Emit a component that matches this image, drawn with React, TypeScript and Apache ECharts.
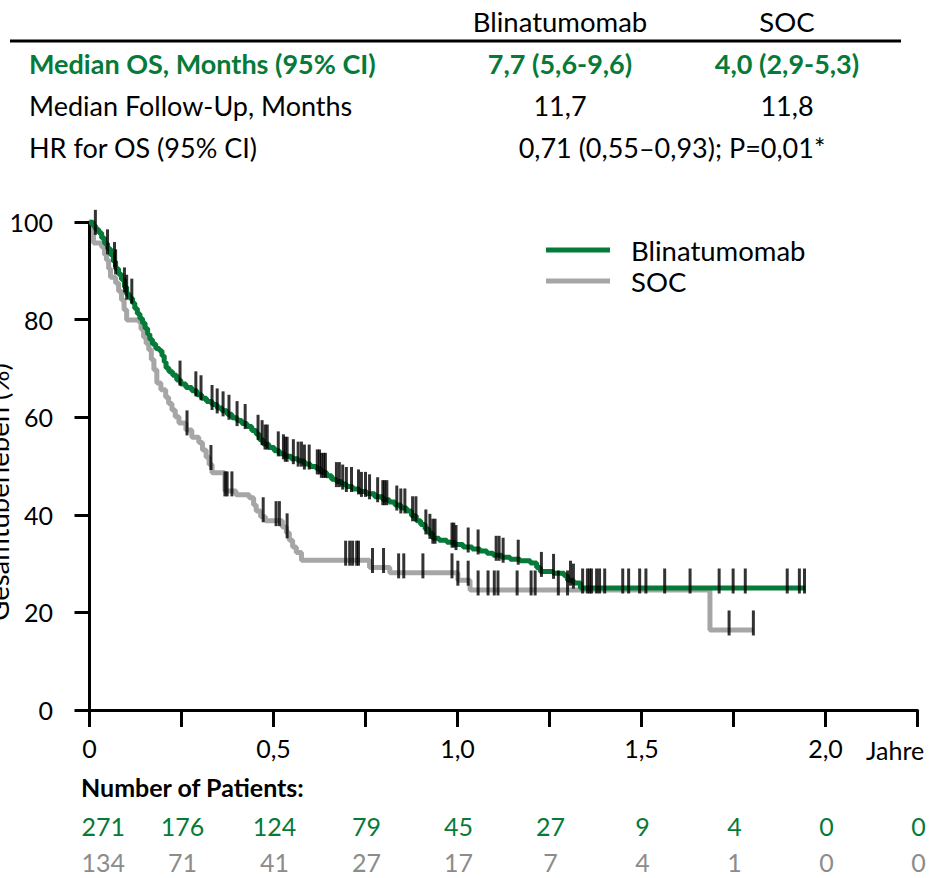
import React, { useEffect, useRef } from "react";
import * as echarts from "echarts";

const FONT = "Lato, 'Open Sans', sans-serif";
const GREEN = "#067a38";
const GREY = "#a6a6a6";
const GREY_TEXT = "#8c8c8c";

// Kaplan-Meier steps: time in years, overall survival in %
const blinaTime = [
  0, 0.008, 0.016, 0.025, 0.033, 0.041, 0.049, 0.057, 0.065, 0.071, 0.079, 0.087, 0.095, 0.101, 0.109,
  0.117, 0.123, 0.13, 0.137, 0.144, 0.151, 0.158, 0.164, 0.171, 0.18, 0.19, 0.197, 0.203, 0.208, 0.216,
  0.226, 0.237, 0.248, 0.262, 0.278, 0.292, 0.305, 0.318, 0.333, 0.347, 0.36, 0.374, 0.387, 0.401, 0.414,
  0.428, 0.441, 0.453, 0.462, 0.472, 0.487, 0.502, 0.516, 0.531, 0.548, 0.567, 0.584, 0.6, 0.617, 0.63,
  0.644, 0.658, 0.671, 0.685, 0.698, 0.715, 0.733, 0.753, 0.775, 0.797, 0.815, 0.83, 0.846, 0.862, 0.875,
  0.888, 0.9, 0.912, 0.922, 0.933, 0.95, 0.971, 0.993, 1.015, 1.04, 1.061, 1.08, 1.097, 1.12, 1.143,
  1.17, 1.198, 1.215, 1.225, 1.26, 1.29, 1.299, 1.315, 1.334, 1.945,
];
const blinaSurv = [
  100, 99.3, 98.5, 97.8, 96.7, 95.6, 94.5, 93.3, 91.9, 90.4, 89.3, 88.2, 86.7, 85.2, 84.4,
  83.4, 82.3, 81.2, 80.2, 79.3, 78.2, 77.0, 75.9, 75.0, 74.1, 73.6, 72.6, 71.3, 70.1, 69.3,
  68.6, 67.6, 66.8, 66.1, 65.4, 64.6, 63.9, 63.2, 62.6, 61.9, 61.3, 60.6, 59.9, 59.3, 58.7,
  58.1, 57.3, 56.5, 55.4, 54.5, 53.8, 53.1, 52.5, 52.0, 51.5, 51.0, 50.4, 49.9, 49.4, 48.7,
  48.0, 47.3, 46.8, 46.3, 45.8, 45.3, 44.8, 44.3, 43.7, 43.1, 42.6, 42.0, 41.4, 40.8, 39.8,
  38.8, 38.0, 37.1, 36.2, 35.2, 34.8, 34.4, 33.9, 33.4, 33.0, 32.6, 32.1, 31.7, 31.3, 30.9,
  30.6, 30.1, 29.2, 28.4, 28.0, 27.5, 26.6, 26.0, 25.0, 25.0,
];
const socTime = [
  0, 0.011, 0.033, 0.041, 0.046, 0.052, 0.057, 0.071, 0.079, 0.087, 0.094, 0.101, 0.134, 0.14, 0.147,
  0.154, 0.161, 0.168, 0.175, 0.183, 0.194, 0.207, 0.215, 0.224, 0.233, 0.243, 0.262, 0.278, 0.297,
  0.307, 0.317, 0.325, 0.333, 0.368, 0.398, 0.434, 0.446, 0.453, 0.465, 0.478, 0.524, 0.535, 0.543,
  0.552, 0.562, 0.576, 0.761, 0.816, 1.001, 1.034, 1.686, 1.804,
];
const socSurv = [
  100, 95.7, 94.9, 93.3, 92.2, 90.4, 88.7, 87.5, 85.8, 84.0, 82.0, 79.9, 79.5, 78.0, 76.4,
  75.1, 73.8, 71.8, 69.7, 67.0, 65.6, 64.1, 62.8, 61.5, 60.1, 58.8, 57.4, 55.9, 54.8,
  53.3, 51.8, 50.3, 48.6, 44.9, 44.1, 43.5, 42.0, 40.8, 39.6, 38.8, 37.5, 36.3, 34.8,
  33.4, 32.3, 30.7, 29.2, 28.1, 26.6, 24.6, 16.4, 16.4,
];

// Censoring times (years)
const blinaCensor = [
  0.016, 0.049, 0.068, 0.071, 0.095, 0.101, 0.115, 0.246, 0.289, 0.303, 0.333, 0.347, 0.363, 0.379,
  0.401, 0.423, 0.458, 0.469, 0.477, 0.483, 0.513, 0.527, 0.532, 0.537, 0.554, 0.567, 0.576, 0.584,
  0.597, 0.619, 0.625, 0.63, 0.636, 0.641, 0.671, 0.679, 0.688, 0.698, 0.712, 0.731, 0.739, 0.75,
  0.761, 0.783, 0.797, 0.802, 0.808, 0.835, 0.846, 0.857, 0.878, 0.887, 0.914, 0.925, 0.933, 0.939,
  0.985, 0.99, 0.996, 1.029, 1.056, 1.105, 1.113, 1.124, 1.165, 1.228, 1.261, 1.307, 1.315, 1.34,
  1.353, 1.359, 1.364, 1.378, 1.386, 1.4, 1.449, 1.465, 1.495, 1.512, 1.563, 1.632, 1.711, 1.749,
  1.782, 1.896, 1.929, 1.943,
];
const socCensor = [
  0.265, 0.33, 0.368, 0.374, 0.387, 0.472, 0.507, 0.516, 0.537, 0.696, 0.707, 0.715, 0.726, 0.731,
  0.769, 0.799, 0.84, 0.854, 0.906, 0.985, 1.001, 1.029, 1.056, 1.083, 1.1, 1.11, 1.162, 1.2, 1.211,
  1.274, 1.299, 1.738, 1.804,
];

// Number at risk
const riskTimes = [0, 0.25, 0.5, 0.75, 1, 1.25, 1.5, 1.75, 2, 2.25];
const blinaAtRisk = [271, 176, 124, 79, 45, 27, 9, 4, 0, 0];
const socAtRisk = [134, 71, 41, 27, 17, 7, 4, 1, 0, 0];

const xTickValues = [0, 0.25, 0.5, 0.75, 1, 1.25, 1.5, 1.75, 2, 2.25];
const xLabelValues = [0, 0.5, 1, 1.5, 2];

// Summary table
const armNames = ["Blinatumomab", "SOC"];
const rowLabels = ["Median OS, Months (95% CI)", "Median Follow-Up, Months", "HR for OS (95% CI)"];
const blinaCol = ["7,7 (5,6-9,6)", "11,7"];
const socCol = ["4,0 (2,9-5,3)", "11,8"];
const hrText = "0,71 (0,55–0,93); P=0,01*";
const yTitle = "Gesamtüberleben (%)";

function survivalAt(times: number[], surv: number[], t: number) {
  let s = surv[0];
  for (let i = 0; i < times.length; i++) {
    if (times[i] <= t) s = surv[i];
  }
  return s;
}

function fmtYear(v: number) {
  return v === 0 ? "0" : v.toFixed(1).replace(".", ",");
}

function txt(x: number, y: number, text: string, opts: any = {}) {
  return {
    type: "text",
    x,
    y,
    rotation: opts.rotation || 0,
    silent: true,
    style: {
      text,
      fill: opts.fill || "#000",
      fontSize: opts.fontSize || 27,
      fontFamily: FONT,
      fontWeight: opts.fontWeight || "normal",
      align: opts.align || "left",
      verticalAlign: "middle",
    },
  };
}

export default function App() {
  const ref = useRef<HTMLDivElement>(null);

  useEffect(() => {
    if (!ref.current) return;
    const chart = echarts.init(ref.current, undefined, { renderer: "svg" });

    const censorSeries = (name: string, times: number[], stepT: number[], stepS: number[]) => ({
      name,
      type: "scatter",
      data: times.map((t) => [t, survivalAt(stepT, stepS, t)]),
      symbol: "rect",
      symbolSize: [3, 25],
      symbolOffset: [0, -7],
      itemStyle: { color: "#000" },
      z: 5,
      silent: true,
    });

    chart.setOption({
      animation: false,
      backgroundColor: "#fff",
      textStyle: { fontFamily: FONT },
      grid: {
        left: 78,
        top: 222,
        width: 839.5,
        height: 488,
        containLabel: false,
        outerBoundsMode: "none",
      },
      legend: {
        data: ["Blinatumomab", "SOC"],
        orient: "vertical",
        left: 541,
        top: 231,
        itemWidth: 64,
        itemHeight: 5,
        itemGap: 3,
        icon: "rect",
        selectedMode: false,
        textStyle: { fontSize: 27.5, fontFamily: FONT, color: "#000", lineHeight: 28, padding: [0, 0, 0, 16] },
      },
      xAxis: {
        type: "value",
        min: -0.03125,
        max: 2.25,
        splitLine: { show: false },
        axisLine: { show: true, onZero: false, lineStyle: { color: "#000", width: 3 } },
        axisTick: { show: true, customValues: xTickValues, length: 17, lineStyle: { color: "#000", width: 3 } },
        axisLabel: {
          customValues: xLabelValues,
          formatter: (v: number) => fmtYear(v),
          margin: 25,
          fontSize: 25,
          color: "#000",
          fontFamily: FONT,
        },
      },
      yAxis: {
        type: "value",
        min: 0,
        max: 100,
        interval: 20,
        splitLine: { show: false },
        axisLine: { show: true, lineStyle: { color: "#000", width: 3 } },
        axisTick: { show: true, length: 15, lineStyle: { color: "#000", width: 3 } },
        axisLabel: { margin: 25, fontSize: 25, color: "#000", fontFamily: FONT },
      },
      series: [
        {
          name: "SOC",
          type: "line",
          step: "end",
          symbol: "none",
          color: GREY,
          lineStyle: { color: GREY, width: 5 },
          data: socTime.map((t, i) => [t, socSurv[i]]),
          z: 2,
          silent: true,
        },
        {
          name: "Blinatumomab",
          type: "line",
          step: "end",
          symbol: "none",
          color: GREEN,
          lineStyle: { color: GREEN, width: 5 },
          data: blinaTime.map((t, i) => [t, blinaSurv[i]]),
          z: 3,
          silent: true,
        },
        censorSeries("SOC zensiert", socCensor, socTime, socSurv),
        censorSeries("Blinatumomab zensiert", blinaCensor, blinaTime, blinaSurv),
      ],
    });

    const colX = riskTimes.map((t) => chart.convertToPixel({ xAxisIndex: 0 }, t) as number);
    const riskRow = (vals: number[], y: number, fill: string) =>
      vals.map((v, i) =>
        i === 0
          ? txt(colX[i] - 8, y, String(v), { fill, fontSize: 25 })
          : txt(colX[i] + 1, y, String(v), { fill, fontSize: 25, align: "center" })
      );

    const colBlina = 560;
    const colSoc = 787;
    chart.setOption({
      graphic: [
        txt(colBlina, 21, armNames[0], { align: "center", fontSize: 27.5 }),
        txt(colSoc, 21, armNames[1], { align: "center", fontSize: 27.5 }),
        {
          type: "line",
          silent: true,
          shape: { x1: 10, y1: 41, x2: 901, y2: 41 },
          style: { stroke: "#000", lineWidth: 3 },
        },
        txt(29, 63, rowLabels[0], { fill: GREEN, fontWeight: "bold" }),
        txt(colBlina, 63, blinaCol[0], { fill: GREEN, fontWeight: "bold", align: "center" }),
        txt(colSoc, 63, socCol[0], { fill: GREEN, fontWeight: "bold", align: "center" }),
        txt(29, 105, rowLabels[1]),
        txt(colBlina, 105, blinaCol[1], { align: "center" }),
        txt(colSoc, 105, socCol[1], { align: "center" }),
        txt(29, 147, rowLabels[2]),
        txt(672, 147, hrText, { align: "center" }),
        txt(-2, 492, yTitle, { align: "center", rotation: Math.PI / 2, fontSize: 27.5 }),
        txt(866, 750, "Jahre", { fontSize: 25 }),
        txt(81, 787, "Number of Patients:", { fontWeight: "bold", fontSize: 25 }),
        ...riskRow(blinaAtRisk, 826, GREEN),
        ...riskRow(socAtRisk, 862, GREY_TEXT),
      ],
    });

    return () => chart.dispose();
  }, []);

  return (
    <div
      ref={ref}
      style={{ position: "absolute", left: 0, top: 0, width: 936, height: 878, background: "#fff" }}
    />
  );
}
